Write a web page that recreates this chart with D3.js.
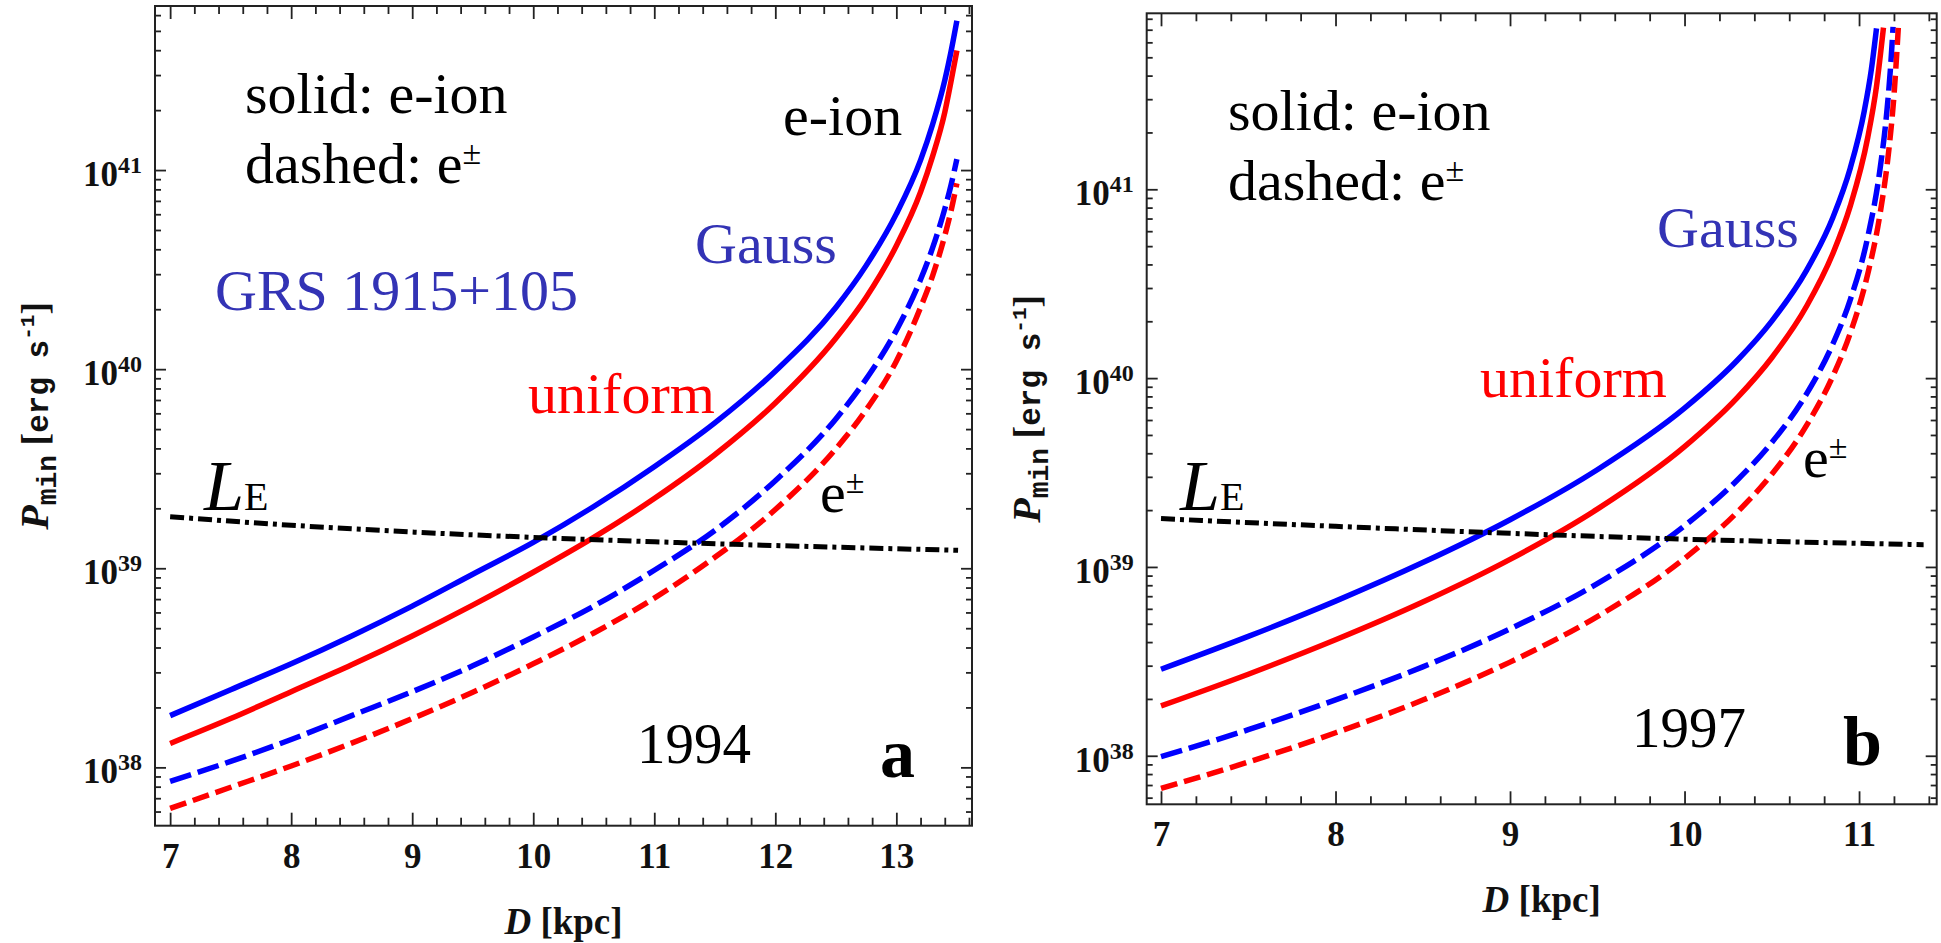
<!DOCTYPE html>
<html>
<head>
<meta charset="utf-8">
<script src="https://cdn.jsdelivr.net/npm/d3@7"></script>
<style>
  body { margin: 0; background: #fff; }
  svg { display: block; }
</style>
</head>
<body>
<svg id="fig" width="1941" height="943"></svg>
<script>
// ---- Panel a: 1994 ejection, log10(P_min / erg s^-1) versus D [kpc] ----
const dA = [7, 7.5, 8, 8.5, 9, 9.5, 10, 10.5, 11, 11.5, 12, 12.5, 12.75, 13, 13.2, 13.3, 13.4, 13.45, 13.5];
const a94GaussIon    = [38.26, 38.39, 38.52, 38.66, 38.81, 38.97, 39.13, 39.31, 39.51, 39.73, 39.99, 40.31, 40.52, 40.78, 41.05, 41.23, 41.45, 41.59, 41.75];
const a94UniformIon  = [38.12, 38.245, 38.38, 38.515, 38.66, 38.815, 38.98, 39.155, 39.35, 39.57, 39.83, 40.155, 40.36, 40.62, 40.89, 41.07, 41.29, 41.44, 41.60];
const a94GaussPair   = [37.93, 38.03, 38.14, 38.26, 38.38, 38.51, 38.655, 38.81, 38.99, 39.19, 39.44, 39.75, 39.95, 40.195, 40.45, 40.61, 40.805, 40.92, 41.055];
const a94UniformPair = [37.794, 37.90, 38.007, 38.122, 38.245, 38.377, 38.52, 38.675, 38.85, 39.055, 39.295, 39.60, 39.795, 40.04, 40.31, 40.47, 40.67, 40.79, 40.933];
const dEddA = [7, 8, 9, 10, 11, 12, 13, 13.51];
const a94Eddington = [39.259, 39.216, 39.182, 39.155, 39.133, 39.114, 39.098, 39.09];

// ---- Panel b: 1997 ejection ----
const dB_GaussIon    = [7, 7.5, 8, 8.5, 9, 9.5, 10, 10.3, 10.5, 10.7, 10.85, 10.95, 11.03, 11.07, 11.10];
const b97GaussIon    = [38.458, 38.632, 38.819, 39.023, 39.25, 39.515, 39.841, 40.092, 40.302, 40.572, 40.851, 41.113, 41.415, 41.631, 41.852];
const dB_UniformIon  = [7, 7.5, 8, 8.5, 9, 9.5, 10, 10.3, 10.5, 10.7, 10.85, 10.95, 11.05, 11.10, 11.14];
const b97UniformIon  = [38.264, 38.432, 38.614, 38.814, 39.04, 39.306, 39.637, 39.894, 40.108, 40.382, 40.66, 40.912, 41.275, 41.545, 41.856];
const dB_GaussPair   = [7, 7.5, 8, 8.5, 9, 9.5, 10, 10.3, 10.5, 10.7, 10.85, 10.95, 11.05, 11.12, 11.16, 11.18, 11.195];
const b97GaussPair   = [37.995, 38.138, 38.296, 38.471, 38.672, 38.912, 39.218, 39.458, 39.659, 39.918, 40.181, 40.416, 40.748, 41.105, 41.418, 41.639, 41.86];
const dB_UniformPair = [7, 7.5, 8, 8.5, 9, 9.5, 10, 10.3, 10.5, 10.7, 10.85, 10.95, 11.05, 11.12, 11.17, 11.2, 11.225];
const b97UniformPair = [37.827, 37.967, 38.122, 38.295, 38.496, 38.737, 39.045, 39.288, 39.491, 39.751, 40.011, 40.239, 40.552, 40.868, 41.202, 41.494, 41.855];
const dEddB = [7, 8, 9, 10, 11, 11.37];
const b97Eddington = [39.256, 39.215, 39.178, 39.147, 39.125, 39.118];

// ---- Axis ticks ----
const xMajorA = [7, 8, 9, 10, 11, 12, 13];
const xMajorB = [7, 8, 9, 10, 11];
const yDecades = [38, 39, 40, 41];

const SERIF = "'Liberation Serif','Times New Roman',Times,serif";
const MONO = "'Liberation Mono','Courier New',monospace";
const BLUE = "#0000ff", RED = "#ff0000", LABEL_BLUE = "#3333b5";

const svg = d3.select("#fig");

function pairs(xs, ys) { return xs.map((d, i) => [d, Math.pow(10, ys[i])]); }

function drawPanel(p) {
  const x = d3.scaleLinear().domain(p.xDomain).range([p.left, p.right]);
  const y = d3.scaleLog().domain(p.yDomain.map(v => Math.pow(10, v))).range([p.bottom, p.top]);
  const g = svg.append("g");

  // minor tick positions: every 0.2 kpc, and 2..9 x 10^n
  const xMinor = d3.range(Math.ceil(p.xDomain[0] * 5) / 5, p.xDomain[1] + 1e-9, 0.2)
    .map(v => Math.round(v * 10) / 10)
    .filter(v => Math.abs(v - Math.round(v)) > 1e-6);
  const yMinor = [];
  for (let e = Math.floor(p.yDomain[0]); e <= Math.ceil(p.yDomain[1]); e++) {
    for (let k = 2; k <= 9; k++) {
      const v = k * Math.pow(10, e);
      const lv = Math.log10(v);
      if (lv > p.yDomain[0] && lv < p.yDomain[1]) yMinor.push(v);
    }
  }
  const yMajor = yDecades.map(e => Math.pow(10, e));

  const tickStyle = sel => {
    sel.select(".domain").remove();
    sel.selectAll(".tick line").attr("stroke", "#222").attr("stroke-width", 1.8);
  };

  // bottom / top
  g.append("g").attr("transform", `translate(0,${p.bottom})`)
    .call(d3.axisBottom(x).tickValues(p.xMajor).tickSizeInner(-13).tickSizeOuter(0).tickFormat(d3.format("d")))
    .call(tickStyle)
    .call(s => s.selectAll("text").attr("y", 42).attr("dy", null)
      .attr("font-family", SERIF).attr("font-weight", "bold").attr("font-size", 35).attr("fill", "#111"));
  g.append("g").attr("transform", `translate(0,${p.bottom})`)
    .call(d3.axisBottom(x).tickValues(xMinor).tickSizeInner(-8).tickSizeOuter(0).tickFormat(""))
    .call(tickStyle);
  g.append("g").attr("transform", `translate(0,${p.top})`)
    .call(d3.axisTop(x).tickValues(p.xMajor).tickSizeInner(-13).tickSizeOuter(0).tickFormat(""))
    .call(tickStyle);
  g.append("g").attr("transform", `translate(0,${p.top})`)
    .call(d3.axisTop(x).tickValues(xMinor).tickSizeInner(-8).tickSizeOuter(0).tickFormat(""))
    .call(tickStyle);

  // left / right
  const left = g.append("g").attr("transform", `translate(${p.left},0)`)
    .call(d3.axisLeft(y).tickValues(yMajor).tickSizeInner(-11).tickSizeOuter(0).tickFormat(""))
    .call(tickStyle);
  left.selectAll(".tick").append("text")
    .attr("x", -13).attr("y", 15.5)
    .attr("text-anchor", "end")
    .attr("font-family", SERIF).attr("font-weight", "bold").attr("font-size", 35).attr("fill", "#111")
    .each(function (d) {
      const t = d3.select(this);
      t.append("tspan").text("10");
      t.append("tspan").attr("font-size", 24).attr("dy", -13).text(Math.round(Math.log10(d)));
    });
  g.append("g").attr("transform", `translate(${p.left},0)`)
    .call(d3.axisLeft(y).tickValues(yMinor).tickSizeInner(-6).tickSizeOuter(0).tickFormat(""))
    .call(tickStyle);
  g.append("g").attr("transform", `translate(${p.right},0)`)
    .call(d3.axisRight(y).tickValues(yMajor).tickSizeInner(-11).tickSizeOuter(0).tickFormat(""))
    .call(tickStyle);
  g.append("g").attr("transform", `translate(${p.right},0)`)
    .call(d3.axisRight(y).tickValues(yMinor).tickSizeInner(-6).tickSizeOuter(0).tickFormat(""))
    .call(tickStyle);

  // frame
  g.append("rect")
    .attr("x", p.left).attr("y", p.top)
    .attr("width", p.right - p.left).attr("height", p.bottom - p.top)
    .attr("fill", "none").attr("stroke", "#222").attr("stroke-width", 2);

  // curves
  const clipId = "clip-" + p.id;
  svg.append("clipPath").attr("id", clipId).append("rect")
    .attr("x", p.left).attr("y", p.top)
    .attr("width", p.right - p.left).attr("height", p.bottom - p.top);
  const line = d3.line().x(d => x(d[0])).y(d => y(d[1])).curve(d3.curveMonotoneX);
  const cg = g.append("g").attr("clip-path", `url(#${clipId})`);
  p.series.forEach(s => {
    cg.append("path")
      .attr("d", line(pairs(s.d, s.v)))
      .attr("fill", "none")
      .attr("stroke", s.color)
      .attr("stroke-width", s.width || 5.5)
      .attr("stroke-dasharray", s.dash || null)
      .attr("stroke-linecap", "butt")
      .attr("stroke-linejoin", "round");
  });

  // axis titles
  g.append("text")
    .attr("x", (p.left + p.right) / 2).attr("y", p.bottom + 108)
    .attr("text-anchor", "middle")
    .attr("font-family", SERIF).attr("font-weight", "bold").attr("font-size", 37).attr("fill", "#111")
    .call(t => {
      t.append("tspan").attr("font-style", "italic").text("D");
      t.append("tspan").text(" [kpc]");
    });
  g.append("text")
    .attr("transform", `translate(${p.left - 107},${(p.top + p.bottom) / 2}) rotate(-90)`)
    .attr("text-anchor", "middle")
    .attr("font-weight", "bold").attr("fill", "#111")
    .call(t => {
      t.append("tspan").attr("font-family", SERIF).attr("font-style", "italic").attr("font-size", 40).text("P");
      t.append("tspan").attr("font-family", MONO).attr("font-size", 28).attr("dy", 8).text("min");
      t.append("tspan").attr("font-family", SERIF).attr("font-size", 38).attr("dy", -8).text(" [");
      t.append("tspan").attr("font-family", MONO).attr("font-size", 31).text("erg s");
      t.append("tspan").attr("font-family", MONO).attr("font-size", 21).attr("dy", -14).text("-1");
      t.append("tspan").attr("font-family", SERIF).attr("font-size", 38).attr("dy", 14).text("]");
    });

  // annotations
  p.notes.forEach(n => {
    const t = g.append("text")
      .attr("x", n.x).attr("y", n.y)
      .attr("font-family", SERIF)
      .attr("font-size", n.size || 58)
      .attr("font-weight", n.bold ? "bold" : "normal")
      .attr("fill", n.color || "#000");
    if (n.pm) {
      t.append("tspan").text(n.text);
      t.append("tspan").attr("font-size", 34).attr("dy", -19).text("\u00b1");
    } else if (n.le) {
      t.append("tspan").attr("font-style", "italic").attr("font-size", 72).text("L");
      t.append("tspan").attr("font-size", 40).text("E");
    } else {
      t.text(n.text);
    }
  });
}

drawPanel({
  id: "a",
  left: 155, right: 972, top: 6, bottom: 825.7,
  xDomain: [6.875, 13.625], yDomain: [37.707, 41.824],
  xMajor: xMajorA,
  series: [
    { d: dA, v: a94GaussIon, color: BLUE },
    { d: dA, v: a94UniformIon, color: RED },
    { d: dA, v: a94GaussPair, color: BLUE, dash: "22,7" },
    { d: dA, v: a94UniformPair, color: RED, dash: "17,7" },
    { d: dEddA, v: a94Eddington, color: "#000", dash: "14,5,4,5", width: 5 }
  ],
  notes: [
    { x: 245, y: 113, text: "solid: e-ion" },
    { x: 245, y: 183, text: "dashed: e", pm: true },
    { x: 783, y: 135, text: "e-ion" },
    { x: 695, y: 263, text: "Gauss", color: LABEL_BLUE },
    { x: 215, y: 310, text: "GRS 1915+105", color: LABEL_BLUE },
    { x: 528, y: 413, text: "uniform", color: RED },
    { x: 204, y: 510, le: true },
    { x: 820, y: 512, text: "e", pm: true },
    { x: 637, y: 763, text: "1994", size: 57 },
    { x: 880, y: 777, text: "a", size: 70, bold: true }
  ]
});

drawPanel({
  id: "b",
  left: 1146.7, right: 1936.7, top: 13.3, bottom: 804.3,
  xDomain: [6.918, 11.445], yDomain: [37.743, 41.932],
  xMajor: xMajorB,
  series: [
    { d: dB_GaussIon, v: b97GaussIon, color: BLUE },
    { d: dB_UniformIon, v: b97UniformIon, color: RED },
    { d: dB_GaussPair, v: b97GaussPair, color: BLUE, dash: "22,7" },
    { d: dB_UniformPair, v: b97UniformPair, color: RED, dash: "17,7" },
    { d: dEddB, v: b97Eddington, color: "#000", dash: "14,5,4,5", width: 5 }
  ],
  notes: [
    { x: 1228, y: 130, text: "solid: e-ion" },
    { x: 1228, y: 200, text: "dashed: e", pm: true },
    { x: 1657, y: 247, text: "Gauss", color: LABEL_BLUE },
    { x: 1480, y: 397, text: "uniform", color: RED },
    { x: 1180, y: 510, le: true },
    { x: 1803, y: 477, text: "e", pm: true },
    { x: 1632, y: 747, text: "1997", size: 57 },
    { x: 1843, y: 765, text: "b", size: 70, bold: true }
  ]
});
</script>
</body>
</html>
